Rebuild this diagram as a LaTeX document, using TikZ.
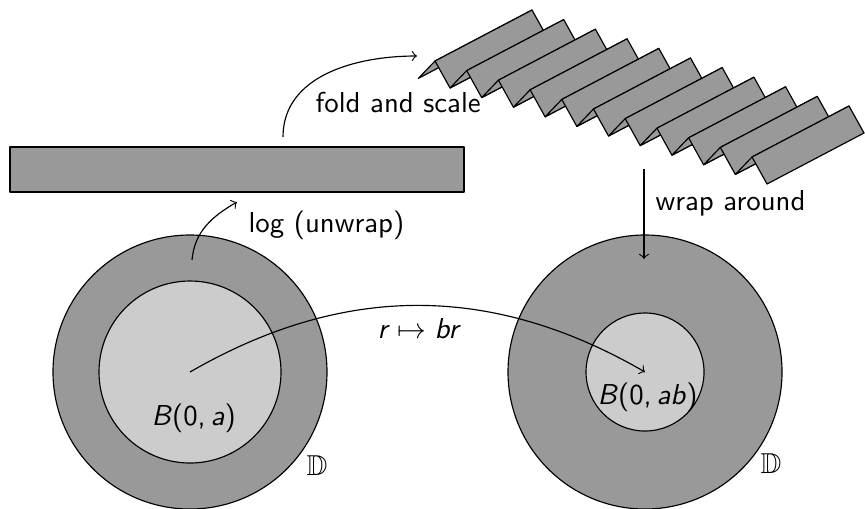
\documentclass[tikz,border=0pt]{standalone}
\usepackage{amssymb}
\begin{document}
\begin{tikzpicture}[x=0.3472pt,y=0.3472pt,
  dark/.style={fill=black!40,draw=black,line join=round},
  light/.style={fill=black!20,draw=black},
  lbl/.style={inner sep=0pt,anchor=base west,font=\sffamily},
  conn/.style={->,draw=black}]
\useasboundingbox (0,0) rectangle (865,-508);
% discs
\coordinate (cl) at (190,-372);
\coordinate (cr) at (645,-372);
\draw[dark] (cl) circle[radius=137];
\draw[light] (cl) circle[radius=91];
\draw[dark] (cr) circle[radius=137];
\draw[light] (cr) circle[radius=59];
% strip
\draw[dark] (10,-147) rectangle (464,-192);
% folded strip
\foreach \i in {0,...,10}{
  \begin{scope}[shift={(31.7*\i,-9.6*\i)}]
    \draw[dark] (418.3,-78.4) -- (515.3,-27.4) -- (532,-10) -- (435,-61) -- cycle;
    \draw[dark] (435,-61) -- (532,-10) -- (547,-37) -- (450,-88) -- cycle;
  \end{scope}
}
% labels
\node[lbl] (fold) at (315,-112) {fold and scale};
\node[lbl] (log) at (248,-232) {log (unwrap)};
\node[lbl] (wrap) at (655,-210) {wrap around};
\node[lbl] (map) at (377,-338) {\textsl{r}\;$\mapsto$\;\textsl{br}};
\node[lbl] (ba) at (151,-425) {\textsl{B}(0,\,\textsl{a})};
\node[lbl] (bab) at (597,-404) {\textsl{B}(0,\,\textsl{ab})};
\node[lbl] (dl) at (306,-475) {$\mathbb{D}$};
\node[lbl] (dr) at (760,-473) {$\mathbb{D}$};
% connectors
\coordinate (logs) at (192,-260);
\coordinate (loge) at (237,-202);
\coordinate (folds) at (283,-137);
\coordinate (folde) at (417,-56);
\coordinate (wraps) at (644,-169);
\coordinate (wrape) at (644,-259);
\draw[conn] (logs) to[out=85,in=210] (loge);
\draw[conn] (folds) to[out=90,in=180] (folde);
\draw[conn] (wraps) -- (wrape);
\draw[conn] (cl) to[bend left=30] (cr);
\end{tikzpicture}
\end{document}
